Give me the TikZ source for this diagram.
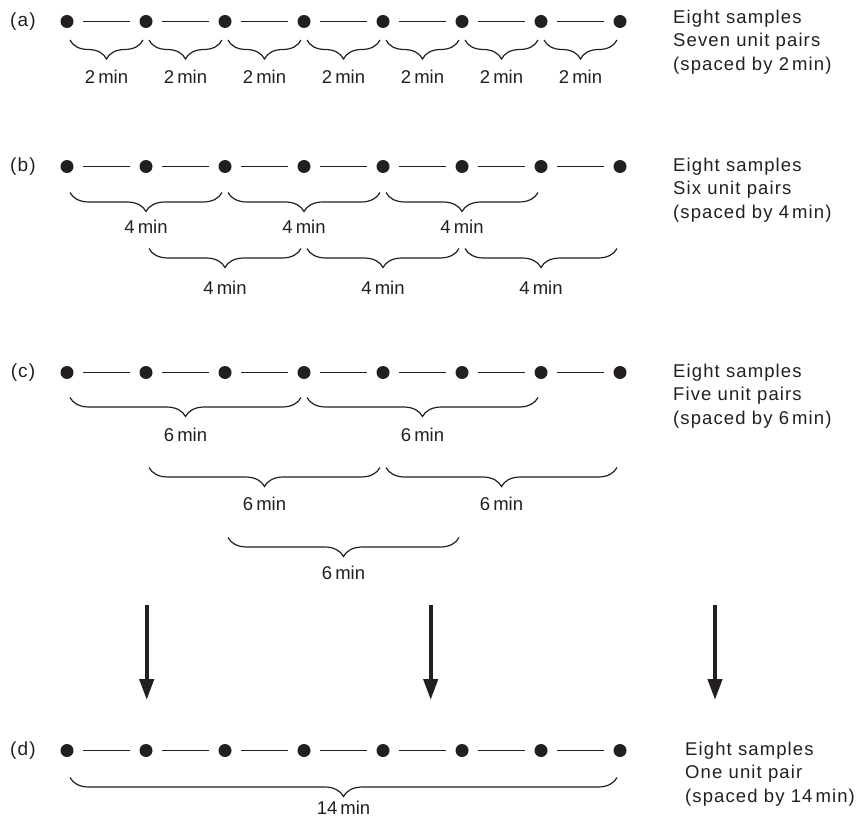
\documentclass[tikz,border=0pt]{standalone}
\usepackage{fontspec}
\setmainfont{Liberation Sans}
\newfontfamily\widefont[LetterSpace=6]{Liberation Sans}
\usetikzlibrary{decorations.pathreplacing,arrows.meta,calc}
\definecolor{ink}{HTML}{231F20}
\newcommand\mybrace[6]{%
  \draw[brc] ($(#1#2)+(3,#4)$) -- ($(#1#3)+(-3,#4)$);
  \node[lbl] (L#1#2#3) at ($(#1#2)!0.5!(#1#3)+(0,#5)$) {#6};
}
\begin{document}
\begin{tikzpicture}[x=1pt,y=-1pt,
  dot/.style={circle,fill=ink,draw=none,inner sep=0pt,minimum size=13pt},
  link/.style={draw=ink,line width=1.4pt,shorten <=9.5pt,shorten >=9pt},
  brc/.style={draw=ink,line width=1.2pt,decorate,decoration={brace,mirror,amplitude=19pt}},
  lbl/.style={text=ink,inner sep=0pt,font=\fontsize{18.5}{23}\selectfont},
  tag/.style={text=ink,inner sep=0pt,font=\fontsize{19}{23}\selectfont\widefont},
  desc/.style={text=ink,inner sep=0pt,anchor=west,align=left,font=\fontsize{18.5}{23.5}\selectfont\widefont},
  bigarrow/.style={draw=ink,line width=4.2pt,-{Triangle[width=14pt,length=21pt]}}
]
\useasboundingbox (0,0) rectangle (867,818);
\foreach \r/\yy in {a/21.5,b/166.5,c/372.5,d/750.5} {
  \foreach \i in {0,...,7} \node[dot] (\r\i) at (67+79*\i,\yy) {};
  \foreach \i [count=\j] in {0,...,6} \draw[link] (\r\i) -- (\r\j);
  \node[tag] (tag\r) at (23,\yy) {(\r)};
}
% (a)
\foreach \i [count=\j] in {0,...,6} {\mybrace{a}{\i}{\j}{18.5}{55.5}{2\,min}}
% (b)
\mybrace{b}{0}{2}{26}{60}{4\,min}
\mybrace{b}{2}{4}{26}{60}{4\,min}
\mybrace{b}{4}{6}{26}{60}{4\,min}
\mybrace{b}{1}{3}{82}{121}{4\,min}
\mybrace{b}{3}{5}{82}{121}{4\,min}
\mybrace{b}{5}{7}{82}{121}{4\,min}
% (c)
\mybrace{c}{0}{3}{25}{62}{6\,min}
\mybrace{c}{3}{6}{25}{62}{6\,min}
\mybrace{c}{1}{4}{95}{131}{6\,min}
\mybrace{c}{4}{7}{95}{131}{6\,min}
\mybrace{c}{2}{5}{165}{200}{6\,min}
% (d)
\mybrace{d}{0}{7}{27}{57}{14\,min}
% right texts
\node[desc] (da) at (673,42) {Eight samples\\Seven unit pairs\\(spaced by 2\,min)};
\node[desc] (db) at (673,190) {Eight samples\\Six unit pairs\\(spaced by 4\,min)};
\node[desc] (dc) at (673,396) {Eight samples\\Five unit pairs\\(spaced by 6\,min)};
\node[desc] (dd) at (685,774) {Eight samples\\One unit pair\\(spaced by 14\,min)};
% arrows
\foreach \k/\xx in {1/146.7,2/430.7,3/715} {
  \coordinate (t\k) at (\xx,605);
  \coordinate (h\k) at (\xx,700);
  \draw[bigarrow] (t\k) -- (h\k);
}
\end{tikzpicture}
\end{document}
